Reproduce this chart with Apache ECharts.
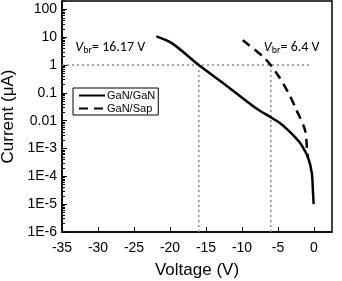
<!DOCTYPE html>
<html><head><meta charset="utf-8">
<script src="https://cdn.jsdelivr.net/npm/echarts@6/dist/echarts.min.js"></script>
<style>html,body{margin:0;padding:0;background:#fff}#c{width:342px;height:281px}</style>
</head><body><div id="c"></div>
<script>
// GaN/GaN (solid)
const ganGanV = [-21.9, -19.7, -16.0, -12.0, -8.2, -5.8, -4.7, -3.6, -2.6, -1.7, -0.8, -0.3, -0.15, -0.05];
const ganGanI = [10.7, 6.0, 1.0, 0.17, 0.030, 0.0123, 0.0081, 0.0046, 0.0025, 0.0013, 4.5e-4, 1.3e-4, 3e-5, 1e-5];
// GaN/Sap (dashed)
const ganSapV = [-9.9, -6.8, -5.0, -3.6, -2.4, -1.25, -0.97, -0.83];
const ganSapI = [7.7, 1.7, 0.43, 0.105, 0.023, 0.0046, 0.00102, 4.5e-4];
// reference dotted lines
const refH = [[-35, 1], [-0.7, 1]];
const refV1 = [[-16, 1], [-16, 1e-6]];
const refV2 = [[-6, 1], [-6, 1e-6]];
const xTicks = [-35, -30, -25, -20, -15, -10, -5, 0];
const yTickValues = [1e-6, 1e-5, 1e-4, 1e-3, 0.01, 0.1, 1, 10, 100];
const yTickLabels = ['1E-6', '1E-5', '1E-4', '1E-3', '0.01', '0.1', '1', '10', '100'];
const yMin = 1e-6, yMax = 200;
const yMinor = [];
for (let e = -6; e <= 2; e++) for (let k = 2; k <= 9; k++) { const v = k * Math.pow(10, e); if (v <= yMax) yMinor.push(v); }
const annotations = [
  { coord: [-28.3, 4.4], text: '16.17 V' },
  { coord: [-3.1, 4.4], text: '6.4 V' }
];

const zip = (a, b) => a.map((v, i) => [v, b[i]]);
const font = 'Liberation Sans, Arial, sans-serif';
const annFont = 'Carlito, Noto Sans, sans-serif';
const chart = echarts.init(document.getElementById('c'));
const dotted = { color: '#8a8a8a', width: 1.5, type: [2, 3] };
chart.setOption({
  animation: false,
  grid: { left: 62, right: 10, top: 1, bottom: 49, outerBoundsMode: 'none', containLabel: false,
          show: true, borderColor: '#000', borderWidth: 1.5, backgroundColor: 'transparent' },
  legend: {
    data: ['GaN/GaN', 'GaN/Sap'], orient: 'vertical', left: 73, top: 88,
    itemWidth: 26, itemHeight: 10, itemGap: 2, padding: [2, 3, 1, 5],
    itemStyle: { color: 'transparent', borderColor: 'transparent', borderWidth: 0 },
    borderColor: '#000', borderWidth: 1, textStyle: { fontFamily: font, fontSize: 11, color: '#000', padding: [0, 0, 0, -3] }
  },
  xAxis: {
    type: 'value', min: -35, max: 2.5, interval: 5,
    name: 'Voltage (V)', nameLocation: 'middle', nameGap: 30,
    nameTextStyle: { fontFamily: font, fontSize: 17, color: '#000' },
    axisLine: { onZero: false, lineStyle: { color: '#000', width: 1.5 } },
    axisTick: { inside: true, length: 5, lineStyle: { color: '#000', width: 1 }, customValues: xTicks },
    axisLabel: { fontFamily: font, fontSize: 14, color: '#000', margin: 9, customValues: xTicks },
    splitLine: { show: false }
  },
  yAxis: [{
    type: 'log', min: yMin, max: yMax,
    name: 'Current (\u03bcA)', nameLocation: 'middle', nameGap: 42,
    nameTextStyle: { fontFamily: font, fontSize: 17, color: '#000' },
    axisLine: { onZero: false, lineStyle: { color: '#000', width: 1.5 } },
    axisTick: { inside: true, length: 5, lineStyle: { color: '#000', width: 1 }, customValues: yTickValues },
    axisLabel: {
      fontFamily: font, fontSize: 14, color: '#000', margin: 5, customValues: yTickValues,
      formatter: v => { let best = 0, bd = 1e9; yTickValues.forEach((t, i) => { const d = Math.abs(Math.log10(t) - Math.log10(v)); if (d < bd) { bd = d; best = i; } }); return yTickLabels[best]; }
    },
    splitLine: { show: false }
  }, {
    // minor log ticks: a second log axis moved onto the left edge
    type: 'log', min: yMin, max: yMax, position: 'right', offset: -270,
    axisLine: { show: true, onZero: false, lineStyle: { color: 'transparent' } },
    axisTick: { show: true, inside: false, length: 3, lineStyle: { color: '#000', width: 1 }, customValues: yMinor },
    axisLabel: { show: false, customValues: yMinor },
    splitLine: { show: false }
  }],
  series: [
    { name: 'ref1', type: 'line', yAxisIndex: 1, data: refH, symbol: 'none', lineStyle: dotted, silent: true },
    { name: 'ref2', type: 'line', yAxisIndex: 1, data: refV1, symbol: 'none', lineStyle: dotted, silent: true },
    { name: 'ref3', type: 'line', yAxisIndex: 1, data: refV2, symbol: 'none', lineStyle: dotted, silent: true },
    { name: 'GaN/GaN', type: 'line', data: zip(ganGanV, ganGanI), symbol: 'none', smooth: 0.3,
      itemStyle: { color: '#000' }, lineStyle: { color: '#000', width: 2.5 },
      markPoint: {
        symbol: 'circle', symbolSize: 0,
        label: {
          show: true, position: 'inside',
          formatter: p => '{i|V}{s|br}{n|= ' + p.name + '}',
          rich: {
            i: { fontFamily: annFont, fontSize: 14, fontStyle: 'italic', color: '#000' },
            s: { fontFamily: annFont, fontSize: 10, color: '#000', padding: [7, 0, 0, 0] },
            n: { fontFamily: annFont, fontSize: 14, color: '#000' }
          }
        },
        data: annotations.map(a => ({ name: a.text, coord: a.coord }))
      }
    },
    { name: 'GaN/Sap', type: 'line', data: zip(ganSapV, ganSapI), symbol: 'none', smooth: 0.3,
      itemStyle: { color: '#000' }, lineStyle: { color: '#000', width: 2.5, type: [9, 6] } }
  ]
});
</script></body></html>
